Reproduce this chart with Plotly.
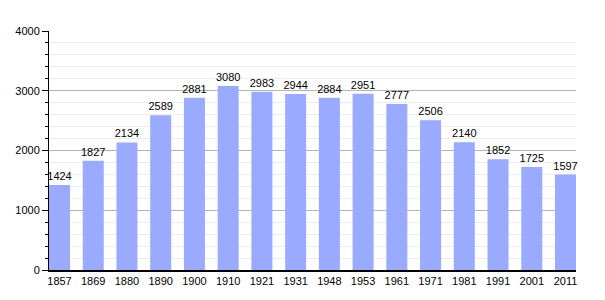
import plotly.graph_objects as go

years = ["1857", "1869", "1880", "1890", "1900", "1910", "1921", "1931", "1948", "1953",
         "1961", "1971", "1981", "1991", "2001", "2011"]
population = [1424, 1827, 2134, 2589, 2881, 3080, 2983, 2944, 2884, 2951,
              2777, 2506, 2140, 1852, 1725, 1597]
y_ticks = [0, 1000, 2000, 3000, 4000]

bar_w = 0.6225
n = len(years)

fig = go.Figure()
fig.add_trace(go.Bar(
    x=list(range(n)), y=population,
    width=bar_w,
    marker=dict(color="#99aaff", line=dict(width=0)),
    text=[str(v) for v in population],
    textposition="outside",
    constraintext="none",
    textfont=dict(family="Liberation Sans, Arial, sans-serif", size=11, color="#000"),
    cliponaxis=False,
))

fig.update_layout(
    width=605, height=300,
    margin=dict(l=49, r=29, t=31, b=30),
    paper_bgcolor="white", plot_bgcolor="white",
    showlegend=False,
    font=dict(family="Liberation Sans, Arial, sans-serif", size=11, color="#000"),
    xaxis=dict(
        range=[-bar_w / 2, n - 1 + bar_w / 2],
        tickvals=list(range(n)), ticktext=years,
        showline=True, linecolor="#000", linewidth=1.5,
        ticks="", showgrid=False, zeroline=False,
        tickfont=dict(size=11),
    ),
    yaxis=dict(
        range=[0, 4000],
        tickvals=y_ticks,
        showline=True, linecolor="#000", linewidth=1,
        ticks="outside", ticklen=6, tickcolor="#000",
        gridcolor="#b4b4b4", gridwidth=1,
        zeroline=False,
        minor=dict(dtick=200, ticks="outside", ticklen=3, tickcolor="#000",
                   showgrid=True, gridcolor="#ececec", gridwidth=1),
        tickfont=dict(size=11),
    ),
)

fig.write_html("out.html")
